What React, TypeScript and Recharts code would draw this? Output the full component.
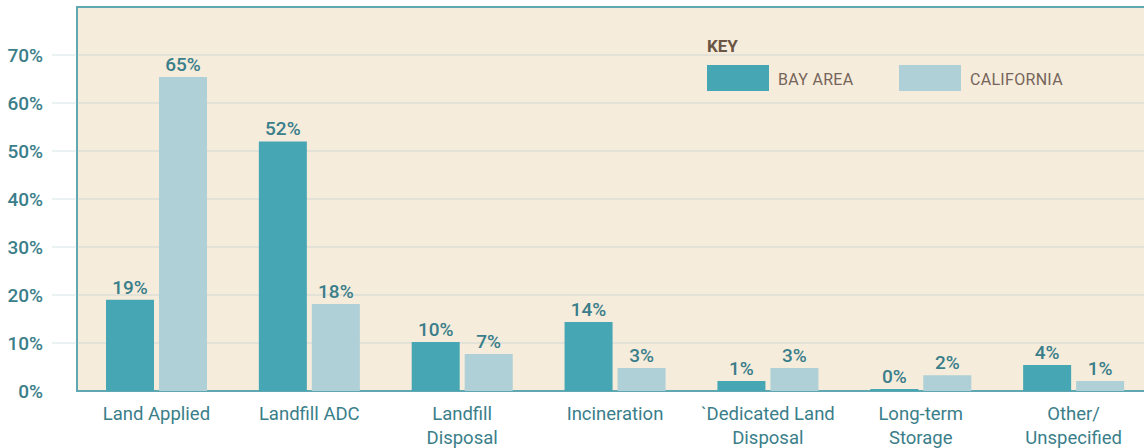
import React from 'react';
import { BarChart, Bar, XAxis, YAxis, CartesianGrid, LabelList, Legend } from 'recharts';

// values
const categories = [
	'Land Applied',
	'Landfill ADC',
	'Landfill\nDisposal',
	'Incineration',
	'`Dedicated Land\nDisposal',
	'Long-term\nStorage',
	'Other/\nUnspecified',
];
const bayArea = [19, 52, 10.2, 14.4, 2.1, 0.4, 5.4];
const california = [65.4, 18.1, 7.7, 4.8, 4.8, 3.3, 2.1];
const bayAreaLabels = ['19%', '52%', '10%', '14%', '1%', '0%', '4%'];
const californiaLabels = ['65%', '18%', '7%', '3%', '3%', '2%', '1%'];
const yTicks = [0, 10, 20, 30, 40, 50, 60, 70];
const gridValues = [10, 20, 30, 40, 50, 60, 70];

const FONT = 'Roboto, sans-serif';
const TEAL_TEXT = '#3a7e8a';
const BAY_COLOR = '#47a6b3';
const CA_COLOR = '#aed0d6';
const BROWN = '#6b5545';

const data = categories.map((name, i) => ({
	name,
	bay: bayArea[i],
	ca: california[i],
	bayLabel: bayAreaLabels[i],
	caLabel: californiaLabels[i],
}));

// two-line category ticks
const CategoryTick = (props: any) => {
	const { x, y, payload } = props;
	const lines = String(payload.value).split('\n');
	return (
		<text x={x} y={y} textAnchor='middle' fill={TEAL_TEXT} fontSize={18.5} fontWeight={400} fontFamily={FONT}>
			{lines.map((line, i) => (
				<tspan key={i} x={x} dy={i === 0 ? 21 : 24}>
					{line}
				</tspan>
			))}
		</text>
	);
};

const KeyLegend = (props: any) => {
	const items = props.payload || [];
	return (
		<div style={{ position: 'relative', width: 420, height: 60, fontFamily: FONT }}>
			<div style={{ position: 'absolute', left: 0, top: 0, lineHeight: '20px', fontSize: 17, fontWeight: 700, color: BROWN }}>
				KEY
			</div>
			{items.map((item: any, i: number) => (
				<React.Fragment key={item.value}>
					<div
						style={{
							position: 'absolute',
							left: i * 192,
							top: 29,
							width: 62,
							height: 26,
							background: item.color,
						}}
					/>
					<div
						style={{
							position: 'absolute',
							left: i * 192 + 71,
							top: 34,
							lineHeight: '19px',
							fontSize: 16,
							letterSpacing: 0.3,
							color: '#75655a',
							whiteSpace: 'nowrap',
						}}
					>
						{item.value}
					</div>
				</React.Fragment>
			))}
		</div>
	);
};

export default function App() {
	return (
		<div style={{ position: 'absolute', left: 0, top: 0, width: 1144, height: 448, overflow: 'hidden', background: '#fff' }}>
			{/* beige panel behind the plot */}
			<div
				style={{
					position: 'absolute',
					left: 76,
					top: 6,
					width: 1100,
					height: 386,
					boxSizing: 'border-box',
					background: '#f5ecdc',
					borderLeft: '2px solid #5fa8b2',
					borderTop: '2px solid #5fa8b2',
					borderBottom: '2px solid #5fa8b2',
				}}
			/>
			<div style={{ position: 'absolute', left: 0, top: 0 }}>
				<BarChart
					width={1152}
					height={448}
					data={data}
					margin={{ top: 7, right: 2, left: 8, bottom: 0 }}
					barSize={48}
					barGap={5}
				>
					<CartesianGrid
						vertical={false}
						horizontalValues={gridValues}
						stroke='#96bec8'
						strokeOpacity={0.2}
						strokeWidth={2}
					/>
					<XAxis
						dataKey='name'
						height={57}
						interval={0}
						axisLine={false}
						tickLine={false}
						padding={{ left: 28, right: 0 }}
						tick={<CategoryTick />}
					/>
					<YAxis
						width={44}
						domain={[0, 80]}
						ticks={yTicks}
						axisLine={false}
						tickLine={false}
						tickMargin={3}
						tickFormatter={(v) => `${v}%`}
						tick={{ fill: TEAL_TEXT, fontSize: 19, fontWeight: 500, fontFamily: FONT }}
					/>
					<Legend
						layout='horizontal'
						verticalAlign='middle'
						align='center'
						width={420}
						wrapperStyle={{ left: 707, top: 36 }}
						content={<KeyLegend />}
					/>
					<Bar dataKey='bay' name='BAY AREA' fill={BAY_COLOR} isAnimationActive={false}>
						<LabelList dataKey='bayLabel' position='top' offset={6} fill={TEAL_TEXT} fontSize={19} fontWeight={500} fontFamily={FONT} />
					</Bar>
					<Bar dataKey='ca' name='CALIFORNIA' fill={CA_COLOR} isAnimationActive={false}>
						<LabelList dataKey='caLabel' position='top' offset={6} fill={TEAL_TEXT} fontSize={19} fontWeight={500} fontFamily={FONT} />
					</Bar>
				</BarChart>
			</div>
		</div>
	);
}
